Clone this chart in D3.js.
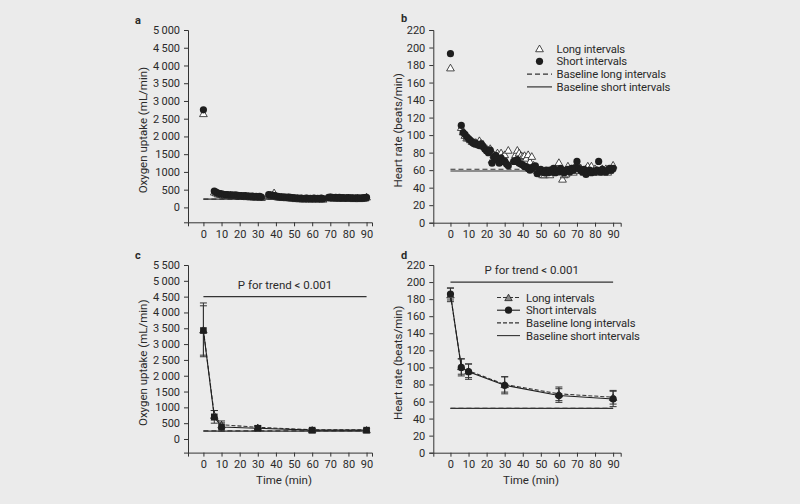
<!DOCTYPE html>
<html>
<head>
<meta charset="utf-8">
<script src="https://cdn.jsdelivr.net/npm/d3@7"></script>
<style>
  html, body { margin: 0; padding: 0; background: #ebebeb; }
  svg { display: block; }
  text { font-family: Roboto, "Open Sans", sans-serif; fill: #2a2a2a; }
</style>
</head>
<body>
<div class="chart"></div>
<script>
const width = 800
const height = 504

// ---- data ----
// per-minute recordings (panels a, b), first value at minute 6, null = missing
const startMinute = 6
const o2Short = [460, 430, 400, 390, 380, 370, 360, 360, 350, 355, 350, 345, 350, 340, 335,
  330, 320, 330, 315, 320, 310, 315, 305, 310, 300, 310, 290, null, null, null,
  360, 350, 345, 330, 320, 310, 300, 295, 290, 290, 285, 290, 280, 275, 270,
  260, 265, 255, 260, 250, 255, 260, 250, 255, 250, 260, 250, 255, 250, 260, 245,
  null, null, 280, 290, 280, 275, 285, 270, 280, 270, 275, 265, 270, 275, 265,
  270, 260, 265, 270, 260, 265, 270, 275, 280]
const o2Long = [440, 420, 390, 380, 370, 360, 355, 350, 345, 350, 340, 340, 345, 335, 330,
  325, 315, 325, 310, 315, 305, 310, 300, 305, 295, 305, 285, null, null, null,
  350, 345, 340, 420, 330, 305, 295, 290, 285, 285, 280, 285, 275, 270, 265,
  255, 260, 250, 255, 245, 250, 255, 245, 250, 245, 255, 245, 250, 245, 255, 240,
  null, null, 275, 285, 275, 270, 280, 265, 275, 265, 270, 260, 265, 270, 260,
  265, 255, 260, 265, 255, 260, 265, 270, 300]
const hrShort = [111, 103, 101, 98, 96, 94, 92, 90, 91, 89, 88, 90, 87, 84, 82,
  80, 83, 68, 75, 77, 72, 68, 74, 70, 70, 67, 65, null, null, 70,
  70, 72, 68, 67, 66, 64, 64, 62, 60, 62, 64, 65, 56, 60, 61,
  58, 57, 60, 57, 60, 58, 62, 57, 60, 58, 62, 59, 57, 60, 61, 58,
  62, 60, 63, 70, 62, 60, 58, 61, 55, 58, 60, 57, 59, 58,
  60, 70, 58, 61, 59, 58, 60, 62, 60, 62]
const hrLong = [109, 104, 100, 97, 97, 95, 93, 92, 92, 90, 94, 91, 90, 87, 85,
  83, 85, 72, 78, 76, 80, 74, 80, 76, 78, 70, 83, null, null, 72,
  78, 83, 80, 77, 76, 77, 74, 78, 70, 76, 66, 64, 60, 58, 60,
  55, 55, 58, 57, 55, 60, 58, 62, 60, 69, 60, 50, 55, 56, 65, 60,
  62, 58, 60, 62, 64, 63, 60, 58, 62, 65, 60, 65, 58, 62,
  60, 58, 60, 62, 58, 62, 58, 60, 62, 66]
// peak values at minute 0
const o2Peak = { short: 2750, long: 2650 }
const hrPeak = { short: 193, long: 177 }
const o2Baseline = { short: 232, long: 236 }
const hrBaseline = { short: 59, long: 61 }

// summary (panels c, d)
const summaryTimes = [0, 6, 10, 30, 60, 90]
const o2MeanShort = [3430, 700, 380, 340, 280, 280]
const o2ErrShort = [780, 200, 130, 60, 40, 40]
const o2MeanLong = [3450, 750, 450, 370, 290, 290]
const o2ErrLong = [850, 150, 120, 50, 40, 40]
const o2SumBaseline = { short: 250, long: 255 }
const hrMeanShort = [186, 100, 95, 79, 67, 63]
const hrErrShort = [7, 10, 9, 10, 8, 9]
const hrMeanLong = [185, 101, 96, 80, 69, 65]
const hrErrLong = [8, 9, 8, 9, 8, 8]
const hrSumBaseline = { short: 52, long: 52 }

const o2TicksA = [0, 500, 1000, 1500, 2000, 2500, 3000, 3500, 4000, 4500, 5000]
const o2TicksC = [0, 500, 1000, 1500, 2000, 2500, 3000, 3500, 4000, 4500, 5000, 5500]
const hrTicks = [0, 20, 40, 60, 80, 100, 120, 140, 160, 180, 200, 220]
const timeTicks = [0, 10, 20, 30, 40, 50, 60, 70, 80, 90]
const legendLabels = ['Long intervals', 'Short intervals', 'Baseline long intervals', 'Baseline short intervals']

const INK = '#1e1e1e'
const LINE = '#333'

// thousands separated by a thin space from 2000 upward, like the print
function fmtO2(v) {
  if (v < 2000) return String(v)
  const s = String(v)
  return s.slice(0, s.length - 3) + '\u2009' + s.slice(-3)
}

const svg = d3.select('div.chart')
  .append('svg')
  .attr('width', width)
  .attr('height', height)

function toSeries(values) {
  return values
    .map((v, i) => ({ t: startMinute + i, v: v }))
    .filter(d => d.v !== null)
}

function drawAxes(x, y, yTicks, yFmt, yTitle, titleX, xTitle) {
  const g = svg.append('g')
  const xAxis = g.append('g')
    .attr('transform', `translate(0,${y.range()[0]})`)
    .call(d3.axisBottom(x).tickValues(timeTicks).tickSize(4).tickPadding(4))
  const yAxis = g.append('g')
    .attr('transform', `translate(${x.range()[0]},0)`)
    .call(d3.axisLeft(y).tickValues(yTicks).tickFormat(yFmt).tickSize(4).tickPadding(4))
  ;[xAxis, yAxis].forEach(a => {
    a.select('.domain').attr('stroke', LINE).attr('stroke-width', 1)
    a.selectAll('.tick line').attr('stroke', LINE)
    a.selectAll('.tick text').style('font-size', '11px').attr('fill', '#2a2a2a')
  })
  const y0 = y.range()[0], y1 = y.range()[1]
  g.append('text')
    .attr('transform', `translate(${titleX},${(y0 + y1) / 2 + 4}) rotate(-90)`)
    .attr('text-anchor', 'middle')
    .style('font-size', '11.5px')
    .text(yTitle)
  if (xTitle) {
    g.append('text')
      .attr('x', (x.range()[0] + x.range()[1]) / 2 + 4)
      .attr('y', y0 + 31)
      .attr('text-anchor', 'middle')
      .style('font-size', '11.5px')
      .text(xTitle)
  }
}

function triangle(sel, size, fill) {
  sel.attr('d', d3.symbol(d3.symbolTriangle, size)())
    .attr('fill', fill)
    .attr('stroke', INK)
    .attr('stroke-width', 0.8)
}

function baseline(g, x, y, value, dashed, x1) {
  g.append('line')
    .attr('x1', x(0)).attr('x2', x(x1))
    .attr('y1', y(value)).attr('y2', y(value))
    .attr('stroke', LINE)
    .attr('stroke-width', 1.2)
    .attr('stroke-dasharray', dashed ? '5,3' : null)
}

function panelLetter(px, py, letter) {
  svg.append('text')
    .attr('x', px).attr('y', py)
    .style('font-size', '11px')
    .style('font-weight', 'bold')
    .attr('fill', '#111')
    .text(letter)
}

// ---- panel a & b: scatter of per-minute values ----
function scatterPanel(opt) {
  const x = d3.scaleLinear().domain(opt.xDomain).range(opt.xRange)
  const y = d3.scaleLinear().domain(opt.yDomain).range(opt.yRange)
  drawAxes(x, y, opt.yTicks, opt.yFmt, opt.yTitle, opt.titleX, null)

  const g = svg.append('g')
  baseline(g, x, y, opt.base.long, true, 90)
  baseline(g, x, y, opt.base.short, false, 90)

  const longPts = [{ t: 0, v: opt.peak.long }].concat(toSeries(opt.long))
  const shortPts = [{ t: 0, v: opt.peak.short }].concat(toSeries(opt.short))

  g.selectAll('path.long')
    .data(longPts)
    .join('path')
    .attr('class', 'long')
    .attr('transform', d => `translate(${x(d.t)},${y(d.v) + 1})`)
    .call(triangle, 26, '#fff')

  g.selectAll('circle.short')
    .data(shortPts)
    .join('circle')
    .attr('class', 'short')
    .attr('cx', d => x(d.t))
    .attr('cy', d => y(d.v))
    .attr('r', 3.6)
    .attr('fill', INK)
  return { x, y }
}

const xA = [-8.5, 93], xB = [-9.5, 94.2]

scatterPanel({
  xDomain: xA, xRange: [188, 372],
  yDomain: [-420, 5000], yRange: [222.3, 30],
  yTicks: o2TicksA, yFmt: fmtO2,
  yTitle: 'Oxygen uptake (mL/min)', titleX: 147,
  long: o2Long, short: o2Short, peak: o2Peak, base: o2Baseline
})
panelLetter(135, 24, 'a')

scatterPanel({
  xDomain: xB, xRange: [433.3, 620.7],
  yDomain: [0, 220], yRange: [222.7, 30],
  yTicks: hrTicks, yFmt: d3.format('d'),
  yTitle: 'Heart rate (beats/min)', titleX: 402,
  long: hrLong, short: hrShort, peak: hrPeak, base: hrBaseline
})
panelLetter(401, 22, 'b')

// legend b
const legB = svg.append('g')
legendLabels.forEach((label, i) => {
  const ly = 48.5 + i * 12.8
  legB.append('text')
    .attr('x', 556.5).attr('y', ly + 4)
    .style('font-size', '11.3px')
    .style('letter-spacing', '-0.15px')
    .text(label)
  if (i === 0) legB.append('path').attr('transform', `translate(539.5,${ly + 1})`).call(triangle, 26, '#fff')
  if (i === 1) legB.append('circle').attr('cx', 539.5).attr('cy', ly).attr('r', 3.6).attr('fill', INK)
  if (i >= 2) {
    legB.append('line')
      .attr('x1', 527).attr('x2', 552).attr('y1', ly).attr('y2', ly)
      .attr('stroke', LINE).attr('stroke-width', 1.2)
      .attr('stroke-dasharray', i === 2 ? '5,3' : null)
  }
})

// ---- panel c & d: means with error bars ----
function summaryPanel(opt) {
  const x = d3.scaleLinear().domain(opt.xDomain).range(opt.xRange)
  const y = d3.scaleLinear().domain(opt.yDomain).range(opt.yRange)
  drawAxes(x, y, opt.yTicks, opt.yFmt, opt.yTitle, opt.titleX, 'Time (min)')

  const g = svg.append('g')
  // trend bar
  g.append('line')
    .attr('x1', x(0)).attr('x2', x(90))
    .attr('y1', y(opt.trendAt)).attr('y2', y(opt.trendAt))
    .attr('stroke', LINE).attr('stroke-width', 1.2)
  g.append('text')
    .attr('x', x(45)).attr('y', y(opt.trendAt) - 8)
    .attr('text-anchor', 'middle')
    .style('font-size', '11.5px')
    .text('P for trend < 0.001')

  baseline(g, x, y, opt.base.long, true, 90)
  baseline(g, x, y, opt.base.short, false, 90)

  const long = summaryTimes.map((t, i) => ({ t, v: opt.longMean[i], e: opt.longErr[i] }))
  const short = summaryTimes.map((t, i) => ({ t, v: opt.shortMean[i], e: opt.shortErr[i] }))

  const line = d3.line().x(d => x(d.t)).y(d => y(d.v))

  ;[long, short].forEach(series => {
    const eb = g.append('g')
    series.forEach(d => {
      eb.append('line')
        .attr('x1', x(d.t)).attr('x2', x(d.t))
        .attr('y1', y(d.v - d.e)).attr('y2', y(d.v + d.e))
        .attr('stroke', LINE).attr('stroke-width', 1)
      ;[d.v - d.e, d.v + d.e].forEach(val => {
        eb.append('line')
          .attr('x1', x(d.t) - 3.5).attr('x2', x(d.t) + 3.5)
          .attr('y1', y(val)).attr('y2', y(val))
          .attr('stroke', LINE).attr('stroke-width', 1)
      })
    })
  })

  g.append('path').datum(long)
    .attr('d', line).attr('fill', 'none')
    .attr('stroke', LINE).attr('stroke-width', 1.1)
    .attr('stroke-dasharray', '4,2')
  g.append('path').datum(short)
    .attr('d', line).attr('fill', 'none')
    .attr('stroke', INK).attr('stroke-width', 1.1)

  g.selectAll('path.lm')
    .data(long)
    .join('path')
    .attr('class', 'lm')
    .attr('transform', d => `translate(${x(d.t)},${y(d.v) + 1})`)
    .call(triangle, 24, '#888')

  if (opt.shortShape === 'square') {
    g.selectAll('rect.sm')
      .data(short)
      .join('rect')
      .attr('class', 'sm')
      .attr('x', d => x(d.t) - 3.3).attr('y', d => y(d.v) - 3.3)
      .attr('width', 6.6).attr('height', 6.6)
      .attr('fill', INK)
  } else {
    g.selectAll('circle.sm')
      .data(short)
      .join('circle')
      .attr('class', 'sm')
      .attr('cx', d => x(d.t)).attr('cy', d => y(d.v))
      .attr('r', 3.6)
      .attr('fill', INK)
  }
  return { x, y }
}

summaryPanel({
  xDomain: xA, xRange: [188, 372],
  yDomain: [-430, 5500], yRange: [452.6, 265],
  yTicks: o2TicksC, yFmt: fmtO2,
  yTitle: 'Oxygen uptake (mL/min)', titleX: 147,
  trendAt: 4500, shortShape: 'square',
  shortMean: o2MeanShort, shortErr: o2ErrShort,
  longMean: o2MeanLong, longErr: o2ErrLong, base: o2SumBaseline
})
panelLetter(135, 259, 'c')

summaryPanel({
  xDomain: xB, xRange: [433.3, 620.7],
  yDomain: [0, 220], yRange: [452.7, 265],
  yTicks: hrTicks, yFmt: d3.format('d'),
  yTitle: 'Heart rate (beats/min)', titleX: 402,
  trendAt: 200, shortShape: 'circle',
  shortMean: hrMeanShort, shortErr: hrErrShort,
  longMean: hrMeanLong, longErr: hrErrLong, base: hrSumBaseline
})
panelLetter(401, 259, 'd')

// legend d
const legD = svg.append('g')
legendLabels.forEach((label, i) => {
  const ly = 297.5 + i * 12.7
  legD.append('text')
    .attr('x', 526).attr('y', ly + 4)
    .style('font-size', '11.3px')
    .style('letter-spacing', '-0.15px')
    .text(label)
  legD.append('line')
    .attr('x1', 497).attr('x2', 520).attr('y1', ly).attr('y2', ly)
    .attr('stroke', i === 1 ? INK : LINE).attr('stroke-width', 1.1)
    .attr('stroke-dasharray', (i === 0 || i === 2) ? '4,2' : null)
  if (i === 0) legD.append('path').attr('transform', `translate(508.5,${ly + 1})`).call(triangle, 24, '#888')
  if (i === 1) legD.append('circle').attr('cx', 508.5).attr('cy', ly).attr('r', 3.6).attr('fill', INK)
})
</script>
</body>
</html>
